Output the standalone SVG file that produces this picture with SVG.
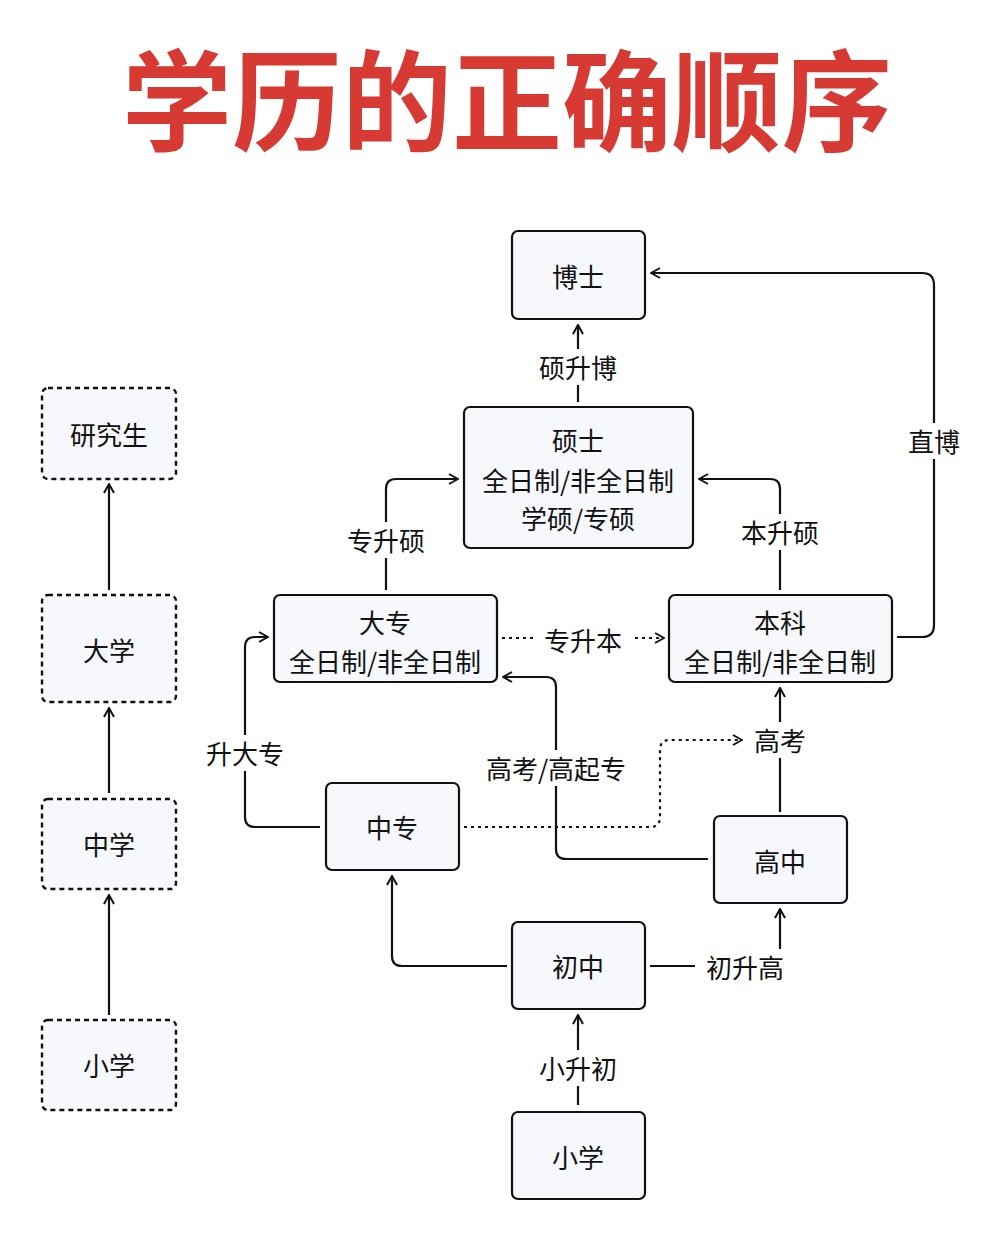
<svg xmlns="http://www.w3.org/2000/svg" width="992" height="1236" viewBox="0 0 992 1236">
<defs>
<marker id="ar" viewBox="0 0 12 12" refX="11" refY="6" markerWidth="12" markerHeight="12" markerUnits="userSpaceOnUse" orient="auto"><path d="M2,1 L11,6 L2,11" fill="none" stroke="#111" stroke-width="2"/></marker>
<style>
.n{fill:#f7f8fc;stroke:#111;stroke-width:2.2}
.d{fill:#f7f8fc;stroke:#111;stroke-width:2.4;stroke-dasharray:5 4}
.t{font-family:"Noto Sans CJK SC",sans-serif;font-size:26px;fill:#111;text-anchor:middle;dominant-baseline:central}
.c{fill:none;stroke:#111;stroke-width:2.2}
.dt{stroke-dasharray:3 4}
.lb{fill:#fff}
</style>
</defs>
<rect width="992" height="1236" fill="#fff"/>
<text x="507" y="95" font-family="Noto Sans CJK SC,sans-serif" font-weight="bold" font-size="110" fill="#d63a32" text-anchor="middle" dominant-baseline="central">学历的正确顺序</text>
<g id="connectors">
<path class="c" d="M109,1015 V895" marker-end="url(#ar)"/>
<path class="c" d="M109,793 V708" marker-end="url(#ar)"/>
<path class="c" d="M109,590 V484" marker-end="url(#ar)"/>
<path class="c" d="M578,1105 V1015" marker-end="url(#ar)"/>
<path class="c" d="M650,966 H770 Q780,966 780,956 V909" marker-end="url(#ar)"/>
<path class="c" d="M507,966 H402 Q392,966 392,956 V876" marker-end="url(#ar)"/>
<path class="c" d="M320,827 H255 Q245,827 245,817 V647 Q245,637 255,637 H268" marker-end="url(#ar)"/>
<path class="c dt" d="M464,827 H650 Q660,827 660,817 V750 Q660,740 670,740 H742" marker-end="url(#ar)"/>
<path class="c" d="M780,812 V688" marker-end="url(#ar)"/>
<path class="c" d="M708,859 H566 Q556,859 556,849 V687 Q556,677 546,677 H503" marker-end="url(#ar)"/>
<path class="c dt" d="M502,638 H664" marker-end="url(#ar)"/>
<path class="c" d="M386,590 V489 Q386,479 396,479 H458" marker-end="url(#ar)"/>
<path class="c" d="M780,590 V489 Q780,479 770,479 H699" marker-end="url(#ar)"/>
<path class="c" d="M897,637 H922 Q934,637 934,625 V285 Q934,273 922,273 H651" marker-end="url(#ar)"/>
<path class="c" d="M578,402 V325" marker-end="url(#ar)"/>
<rect class="lb" x="532" y="1050" width="94" height="36"/><text class="t" x="578" y="1067">小升初</text>
<rect class="lb" x="695" y="949" width="100" height="36"/><text class="t" x="745" y="966">初升高</text>
<rect class="lb" x="198" y="735" width="94" height="36"/><text class="t" x="245" y="752">升大专</text>
<rect class="lb" x="750" y="722" width="60" height="36"/><text class="t" x="780" y="739">高考</text>
<rect class="lb" x="480" y="750" width="152" height="36"/><text class="t" x="556" y="767">高考/高起专</text>
<rect class="lb" x="535" y="622" width="96" height="36"/><text class="t" x="583" y="639">专升本</text>
<rect class="lb" x="339" y="522" width="94" height="36"/><text class="t" x="386" y="539">专升硕</text>
<rect class="lb" x="733" y="514" width="94" height="36"/><text class="t" x="780" y="531">本升硕</text>
<rect class="lb" x="900" y="423" width="68" height="36"/><text class="t" x="934" y="440">直博</text>
<rect class="lb" x="531" y="349" width="94" height="36"/><text class="t" x="578" y="366">硕升博</text>
</g>
<g id="n-yjs"><rect class="d" x="42" y="388" width="134" height="91" rx="6"/><text class="t" x="109" y="433">研究生</text></g>
<g id="n-dx"><rect class="d" x="42" y="595" width="134" height="107" rx="6"/><text class="t" x="109" y="649">大学</text></g>
<g id="n-zx"><rect class="d" x="42" y="799" width="134" height="90" rx="6"/><text class="t" x="109" y="843">中学</text></g>
<g id="n-xx1"><rect class="d" x="42" y="1020" width="134" height="90" rx="6"/><text class="t" x="109" y="1064">小学</text></g>
<g id="n-bs"><rect class="n" x="512" y="231" width="133" height="88" rx="6"/><text class="t" x="578" y="275">博士</text></g>
<g id="n-ss"><rect class="n" x="464" y="407" width="229" height="141" rx="6"/><text class="t" x="578" y="439">硕士</text><text class="t" x="578" y="479">全日制/非全日制</text><text class="t" x="578" y="517">学硕/专硕</text></g>
<g id="n-dz"><rect class="n" x="274" y="595" width="223" height="87" rx="6"/><text class="t" x="385" y="621">大专</text><text class="t" x="385" y="660">全日制/非全日制</text></g>
<g id="n-bk"><rect class="n" x="669" y="595" width="223" height="87" rx="6"/><text class="t" x="780" y="621">本科</text><text class="t" x="780" y="660">全日制/非全日制</text></g>
<g id="n-zz"><rect class="n" x="326" y="783" width="133" height="87" rx="6"/><text class="t" x="392" y="826">中专</text></g>
<g id="n-gz"><rect class="n" x="714" y="816" width="133" height="87" rx="6"/><text class="t" x="780" y="860">高中</text></g>
<g id="n-cz"><rect class="n" x="512" y="922" width="133" height="87" rx="6"/><text class="t" x="578" y="965">初中</text></g>
<g id="n-xx"><rect class="n" x="512" y="1112" width="133" height="87" rx="6"/><text class="t" x="578" y="1156">小学</text></g>
</svg>
